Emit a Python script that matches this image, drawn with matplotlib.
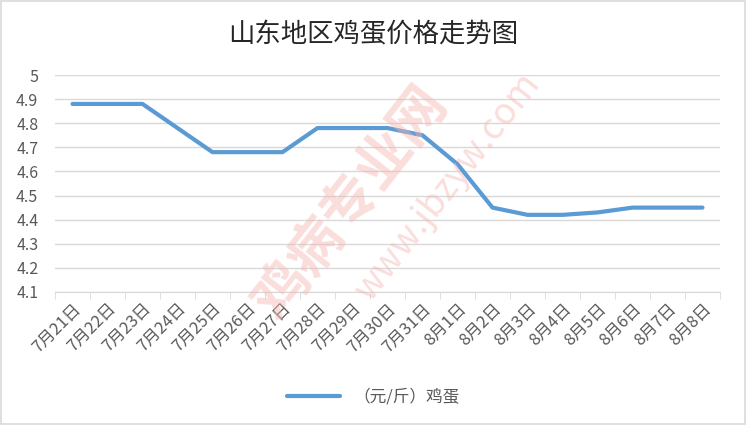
import matplotlib as mpl

mpl.use("agg")

import matplotlib.pyplot as plt

plt.rcParams['font.family'] = ['Noto Sans CJK SC', 'DejaVu Sans']

dates = ['7月21日', '7月22日', '7月23日', '7月24日', '7月25日', '7月26日', '7月27日',
         '7月28日', '7月29日', '7月30日', '7月31日', '8月1日', '8月2日', '8月3日',
         '8月4日', '8月5日', '8月6日', '8月7日', '8月8日']
prices = [4.88, 4.88, 4.88, 4.78, 4.68, 4.68, 4.68, 4.78, 4.78, 4.78, 4.75,
          4.63, 4.45, 4.42, 4.42, 4.43, 4.45, 4.45, 4.45]
yticks = [4.1, 4.2, 4.3, 4.4, 4.5, 4.6, 4.7, 4.8, 4.9, 5]

fig = plt.figure(figsize=(7.46, 4.25), dpi=100)
ax = fig.add_axes([55 / 746, 1 - 292 / 425, 665 / 746, 217 / 425])

x = range(len(dates))
ax.plot(x, prices, color='#5B9BD5', linewidth=3, solid_capstyle='round',
        label='（元/斤）鸡蛋')

ax.set_xlim(-0.5, len(dates) - 0.5)
ax.set_ylim(4.1, 5)
ax.set_yticks(yticks)
ax.set_yticklabels([f'{v:g}' for v in yticks])
ax.set_xticks(list(x))
ax.set_xticklabels(dates, rotation=45, ha='right', rotation_mode='anchor')
ax.set_xticks([i - 0.5 for i in range(len(dates) + 1)], minor=True)
ax.tick_params(axis='x', which='major', length=0, pad=6, labelsize=12,
               labelcolor='#595959')
ax.tick_params(axis='x', which='minor', length=5, color='#D9D9D9')
ax.tick_params(axis='y', length=0, labelsize=11.5, labelcolor='#595959', pad=12)
ax.grid(axis='y', color='#D9D9D9', linewidth=1)
ax.set_axisbelow(True)
for s in ['top', 'right', 'left']:
    ax.spines[s].set_visible(False)
ax.spines['bottom'].set_color('#D9D9D9')

# watermark
fig.text(0.47, 0.52, '鸡病专业网', fontsize=40, color='#F4B6B0', alpha=0.45,
         rotation=52, ha='center', va='center', fontweight='bold', zorder=0)
fig.text(0.6, 0.56, 'www.jbzyw.com', fontsize=26, color='#F4B6B0', alpha=0.45,
         rotation=52, ha='center', va='center', zorder=0)

fig.text(0.5, 1 - 35 / 425, '山东地区鸡蛋价格走势图', fontsize=19, color='#262626',
         ha='center', va='center')

fig.legend(loc='center', bbox_to_anchor=(0.5, 1 - 397 / 425), frameon=False,
           fontsize=12, labelcolor='#595959', handlelength=3.2)

fig.patches.append(mpl.patches.Rectangle((0.002, 0.003), 0.996, 0.994,
                                         transform=fig.transFigure, fill=False,
                                         edgecolor='#D9D9D9', linewidth=1.2))

plt.savefig('out.png', dpi=100)
